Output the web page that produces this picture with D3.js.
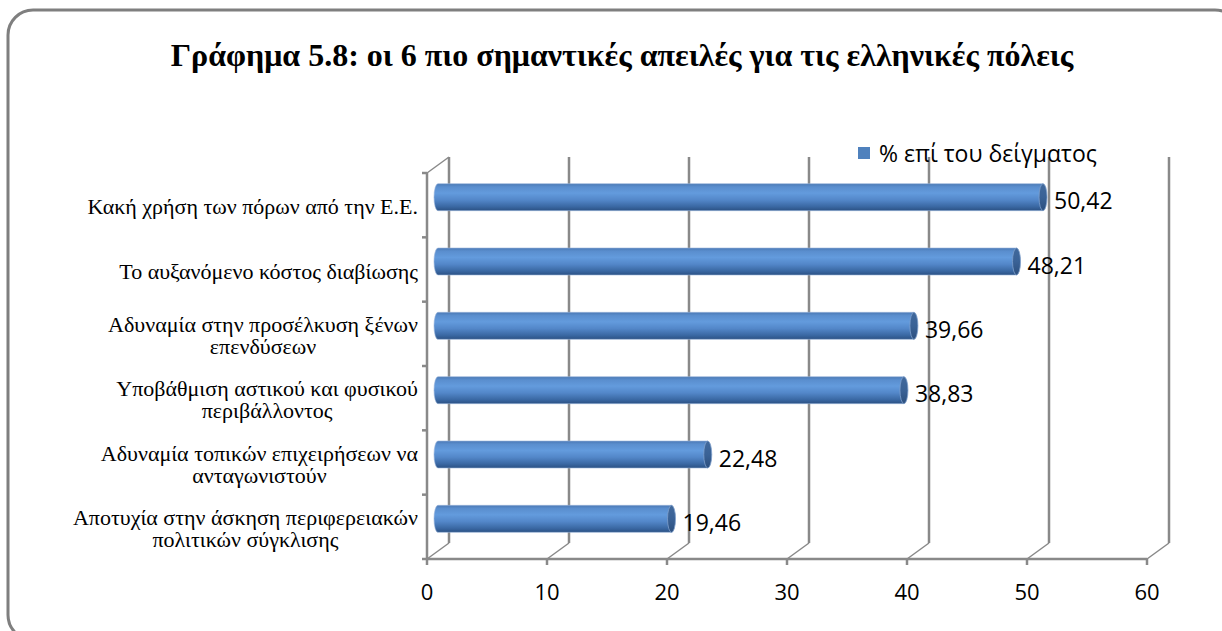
<!DOCTYPE html>
<html>
<head>
<meta charset="utf-8">
<style>
  body { margin: 0; background: #fff; }
  .title { font-family: 'Liberation Serif', 'Times New Roman', serif; font-weight: bold; font-size: 32px; }
  .catLabel { font-family: 'Liberation Serif', 'Times New Roman', serif; font-size: 22px; }
  .tickLabel { font-family: 'Open Sans', sans-serif; font-size: 22px; }
  .valLabel, .legendText { font-family: 'Open Sans', sans-serif; font-size: 23px; }
</style>
</head>
<body>
<div id="chart"></div>
<script src="https://d3js.org/d3.v7.min.js"></script>
<script>

const titleText = "Γράφημα 5.8: οι 6 πιο σημαντικές απειλές για τις ελληνικές πόλεις";
const seriesName = "% επί του δείγματος";
const categories = [
  ["Κακή χρήση των πόρων από την Ε.Ε."],
  ["Το αυξανόμενο κόστος διαβίωσης"],
  ["Αδυναμία στην προσέλκυση ξένων", "επενδύσεων"],
  ["Υποβάθμιση αστικού και φυσικού", "περιβάλλοντος"],
  ["Αδυναμία τοπικών επιχειρήσεων να", "ανταγωνιστούν"],
  ["Αποτυχία στην άσκηση περιφερειακών", "πολιτικών σύγκλισης"]
];
const values = [50.42, 48.21, 39.66, 38.83, 22.48, 19.46];
const xTicks = [0, 10, 20, 30, 40, 50, 60];

const W = 1222, H = 631;
const depth = {dx: 22, dy: -16};   // 3d back wall offset
const barR = 13.5, capRx = 4;

const svg = d3.select("#chart").append("svg")
  .attr("width", W).attr("height", H);

// frame
svg.append("rect")
  .attr("x", 8).attr("y", 10)
  .attr("width", 1232).attr("height", 630)
  .attr("rx", 25)
  .attr("fill", "#fff")
  .attr("stroke", "#7f7f7f")
  .attr("stroke-width", 3);

svg.append("text")
  .attr("class", "title")
  .attr("x", 622).attr("y", 66)
  .attr("text-anchor", "middle")
  .text(titleText);

const x = d3.scaleLinear().domain([0, 60]).range([427, 1147]);
const y = d3.scaleBand().domain(d3.range(categories.length)).range([173, 559]).padding(0);

const plotBottom = y.range()[1], plotTop = y.range()[0];

// gradient for cylinders
const defs = svg.append("defs");
const grad = defs.append("linearGradient")
  .attr("id", "cyl").attr("x1", 0).attr("y1", 0).attr("x2", 0).attr("y2", 1);
[[0, "#4b79b5"], [0.12, "#5a8ece"], [0.35, "#639bdd"], [0.6, "#5387c9"], [0.85, "#3a68a3"], [1, "#2b5184"]]
  .forEach(s => grad.append("stop").attr("offset", s[0]).attr("stop-color", s[1]));
const capGrad = defs.append("linearGradient")
  .attr("id", "cap").attr("x1", 0).attr("y1", 0).attr("x2", 0).attr("y2", 1);
[[0, "#41699c"], [0.5, "#3a6296"], [1, "#2c4f7e"]]
  .forEach(s => capGrad.append("stop").attr("offset", s[0]).attr("stop-color", s[1]));

const grid = svg.append("g").attr("stroke", "#898989").attr("stroke-width", 2.5).attr("fill", "none");

// back gridlines and floor diagonals
xTicks.forEach(t => {
  grid.append("line")
    .attr("x1", x(t) + depth.dx).attr("x2", x(t) + depth.dx)
    .attr("y1", plotTop + depth.dy).attr("y2", plotBottom + depth.dy);
  grid.append("line")
    .attr("x1", x(t)).attr("y1", plotBottom)
    .attr("x2", x(t) + depth.dx).attr("y2", plotBottom + depth.dy)
    .attr("stroke-width", 1.5);
});
// left wall
grid.append("line").attr("x1", x(0)).attr("x2", x(0)).attr("y1", plotTop).attr("y2", plotBottom);
grid.append("line").attr("x1", x(0)).attr("y1", plotTop)
  .attr("x2", x(0) + depth.dx).attr("y2", plotTop + depth.dy).attr("stroke-width", 1.5);
// front axis
grid.append("line").attr("x1", x(0)).attr("x2", x(60)).attr("y1", plotBottom).attr("y2", plotBottom);
xTicks.forEach(t => {
  grid.append("line").attr("x1", x(t)).attr("x2", x(t)).attr("y1", plotBottom).attr("y2", plotBottom + 6);
});
d3.range(categories.length + 1).forEach(i => {
  const yy = plotTop + i * y.bandwidth();
  grid.append("line").attr("x1", x(0) - 5).attr("x2", x(0)).attr("y1", yy).attr("y2", yy);
});

// tick labels
svg.append("g").selectAll("text")
  .data(xTicks).join("text")
  .attr("class", "tickLabel")
  .attr("x", d => x(d)).attr("y", 600)
  .attr("text-anchor", "middle")
  .text(d => d);

// bars (cylinders)
const bars = svg.append("g").selectAll("g")
  .data(values).join("g");

bars.each(function(v, i) {
  const g = d3.select(this);
  const cy = y(i) + y.bandwidth() / 2 + depth.dy / 2;
  const x0 = x(0) + depth.dx / 2, x1 = x(v) + depth.dx / 2;
  g.append("path")
    .attr("d", `M${x1},${cy - barR} L${x0},${cy - barR} A${capRx},${barR} 0 0 0 ${x0},${cy + barR} L${x1},${cy + barR} Z`)
    .attr("fill", "url(#cyl)")
    .attr("stroke", "#9bb6dc").attr("stroke-width", 0.6);
  g.append("ellipse")
    .attr("cx", x1).attr("cy", cy)
    .attr("rx", capRx).attr("ry", barR)
    .attr("fill", "url(#cap)")
    .attr("stroke", "#7f9fcb").attr("stroke-width", 0.8);
  g.append("text")
    .attr("class", "valLabel")
    .attr("x", x1 + capRx + 7).attr("y", cy + 12)
    .text(d3.format(".2f")(v).replace(".", ","));
});

// category labels: centred lines, block right aligned
const labelRight = 418, lineH = 22;
categories.forEach((lines, i) => {
  const cyc = y(i) + y.bandwidth() / 2;
  const t = svg.append("text").attr("class", "catLabel").attr("text-anchor", "middle");
  const spans = lines.map((ln, k) => t.append("tspan")
    .attr("y", cyc + (k - (lines.length - 1) / 2) * lineH + 9)
    .text(ln));
  const maxW = d3.max(spans, s => s.node().getComputedTextLength());
  spans.forEach(s => s.attr("x", labelRight - maxW / 2));
});

// legend
svg.append("rect")
  .attr("x", 858).attr("y", 147).attr("width", 12).attr("height", 12)
  .attr("fill", "#4f81bd");
svg.append("text")
  .attr("class", "legendText")
  .attr("x", 879).attr("y", 162)
  .text(seriesName);
</script>
</body>
</html>
